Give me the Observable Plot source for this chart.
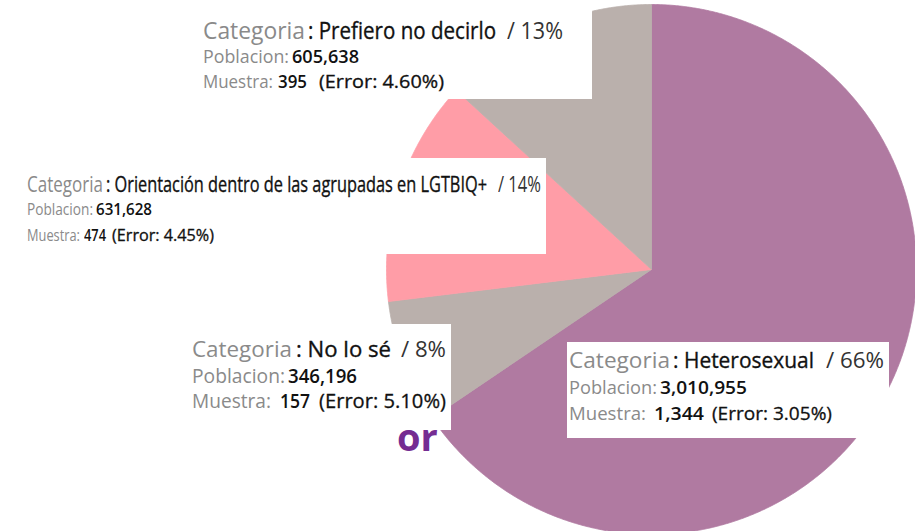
<!DOCTYPE html>
<html>
<head>
<meta charset="utf-8">
<script src="https://cdn.jsdelivr.net/npm/d3@7"></script>
<script src="https://cdn.jsdelivr.net/npm/@observablehq/plot@0.6"></script>
<style>
  html, body { margin: 0; padding: 0; background: #fff; }
  #wrap { position: relative; width: 915px; height: 531px; overflow: hidden; font-family: "Open Sans", sans-serif; }
  #wrap svg { position: absolute; left: 0; top: 0; }
  .tip { position: absolute; background: #fff; }
  .seg { position: absolute; display: inline-block; white-space: nowrap; line-height: 1; transform-origin: 0 0; }
  .k { color: #8a8a8a; font-weight: 400; }
  .c { color: #111; font-weight: 400; -webkit-text-stroke: 0.35px #111; }
  .v { color: #111; font-weight: 600; }
  .n { color: #111; font-weight: 400; -webkit-text-stroke: 0.3px #111; }
  .p { color: #333; font-weight: 400; }
  #or { position: absolute; font-family: "Open Sans", sans-serif; font-weight: 700; color: #752d92; line-height: 1; white-space: nowrap; }
</style>
</head>
<body>
<div id="wrap"></div>
<script>
// ---- data ----
const categories = ["Heterosexual", "No lo sé", "Orientación dentro de las agrupadas en LGTBIQ+", "Prefiero no decirlo"];
const poblacion = [3010955, 346196, 631628, 605638];
const muestra = [1344, 157, 474, 395];
const errores = ["3.05%", "5.10%", "4.45%", "4.60%"];
const colors = ["#b07aa1", "#bab0ac", "#ff9da7", "#bab0ac"];

// ---- layout ----
const W = 915, H = 531, cx = 651, cy = 269, R = 265;

const rows = categories.map((c, i) => ({cat: c, poblacion: poblacion[i], muestra: muestra[i], error: errores[i]}));
const total = d3.sum(poblacion);
const arcs = d3.pie().sort(null).value(d => d.poblacion).startAngle(0).endAngle(2 * Math.PI)(rows);

// slice outlines in unit-radius coordinates
const pts = [];
for (const a of arcs) {
  const n = Math.max(2, Math.ceil((a.endAngle - a.startAngle) / 0.005));
  pts.push({cat: a.data.cat, x: 0, y: 0});
  for (let k = 0; k <= n; k++) {
    const t = a.startAngle + (a.endAngle - a.startAngle) * k / n;
    pts.push({cat: a.data.cat, x: Math.sin(t), y: Math.cos(t)});
  }
  pts.push({cat: a.data.cat, x: 0, y: 0});
}

const chart = Plot.plot({
  width: W, height: H,
  margin: 0,
  x: {domain: [-cx / R, (W - cx) / R], range: [0, W], axis: null},
  y: {domain: [cy / R, -(H - cy) / R], range: [0, H], axis: null},
  color: {domain: categories, range: colors},
  marks: [
    Plot.line(pts, {x: "x", y: "y", z: "cat", fill: "cat", stroke: "cat", strokeWidth: 0.8, curve: "linear"})
  ]
});
const wrap = document.getElementById("wrap");
wrap.appendChild(chart);

// partially hidden title fragment
const orEl = document.createElement("div");
orEl.id = "or";
orEl.textContent = "or";
orEl.style.fontSize = "38px";
orEl.style.left = "397px";
orEl.style.top = (451 - 0.888 * 38) + "px";
wrap.appendChild(orEl);

// ---- tooltip labels ----
const fmt = d3.format(",");
// box: [x1,y1,x2,y2]; b: baselines; s: font sizes; x: [start,end] of each text segment
const tips = [
  {i: 3, box: [195, 0, 592, 99], b: [39, 64, 89], s: [23, 17.5, 17.5],
   x: [[203, 305], [308, 496], [507, 563], [203, 289], [292, 359], [203, 273], [278, 307], [319, 444]]},
  {i: 2, box: [0, 158, 546, 254], b: [193, 216, 242], s: [21, 15.5, 15.5],
   x: [[27, 103], [106, 487], [498, 541], [27, 93], [96, 152], [27, 80], [84, 106], [112, 214]]},
  {i: 1, box: [180, 324, 451, 430], b: [358, 384, 409], s: [22.7, 20, 20],
   x: [[192, 292], [296, 391], [401, 446], [192, 285], [288, 357], [192, 271], [280, 310], [319, 446]]},
  {i: 0, box: [567, 342, 889, 438], b: [369, 394, 420], s: [22.5, 18.3, 18.3],
   x: [[569, 670], [673, 814], [826, 884], [569, 657], [660, 747], [569, 646], [654, 704], [712, 832]]}
];
for (const t of tips) {
  const d = rows[t.i];
  const pct = Math.round(d.poblacion / total * 100);
  const [x1, y1, x2, y2] = t.box;
  const box = document.createElement("div");
  box.className = "tip";
  Object.assign(box.style, {left: x1 + "px", top: y1 + "px", width: (x2 - x1) + "px", height: (y2 - y1) + "px"});
  wrap.appendChild(box);
  const segs = [
    ["k", "Categoria", 0], ["c", ": " + d.cat, 0], ["p", "/ " + pct + "%", 0],
    ["k", "Poblacion:", 1], ["v", fmt(d.poblacion), 1],
    ["k", "Muestra:", 2], ["v", fmt(d.muestra), 2], ["n", "(Error: " + d.error + ")", 2]
  ];
  segs.forEach(([cls, text, line], j) => {
    const el = document.createElement("span");
    el.className = "seg " + cls;
    el.textContent = text;
    const s = t.s[line];
    el.style.fontSize = s + "px";
    el.style.left = (t.x[j][0] - x1) + "px";
    el.style.top = (t.b[line] - y1 - 0.888 * s) + "px";
    box.appendChild(el);
    const w = el.getBoundingClientRect().width;
    const target = t.x[j][1] - t.x[j][0];
    if (w > 0) el.style.transform = `scaleX(${target / w})`;
  });
}
</script>
</body>
</html>
